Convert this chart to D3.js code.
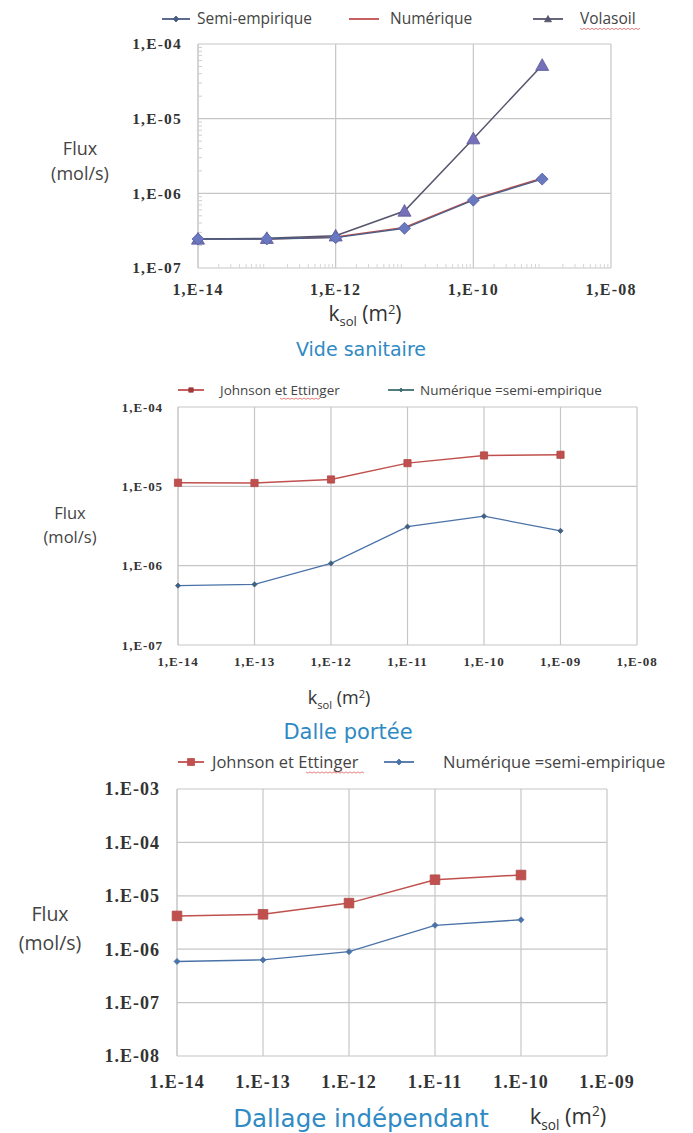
<!DOCTYPE html>
<html><head><meta charset="utf-8">
<script src="https://cdn.jsdelivr.net/npm/d3@7"></script>
<style>body{margin:0;background:#fff}svg{display:block}</style>
</head><body>
<svg id="c" width="693" height="1133"></svg>
<script>
// ---------- DATA ----------
const kVide = [1e-14, 1e-13, 1e-12, 1e-11, 1e-10, 1e-9];
const videSemi = [2.45e-7, 2.45e-7, 2.55e-7, 3.4e-7, 8.1e-7, 1.55e-6];
const videNum = [2.45e-7, 2.45e-7, 2.6e-7, 3.5e-7, 8.3e-7, 1.6e-6];
const videVola = [2.45e-7, 2.5e-7, 2.7e-7, 5.8e-7, 5.4e-6, 5.2e-5];
const videXTicks = ["1,E-14", "1,E-12", "1,E-10", "1,E-08"];
const videYTicks = ["1,E-04", "1,E-05", "1,E-06", "1,E-07"];

const kDalle = [1e-14, 1e-13, 1e-12, 1e-11, 1e-10, 1e-9];
const dalleJE = [1.11e-5, 1.1e-5, 1.22e-5, 1.96e-5, 2.45e-5, 2.5e-5];
const dalleNum = [5.6e-7, 5.8e-7, 1.07e-6, 3.1e-6, 4.2e-6, 2.75e-6];
const dalleXTicks = ["1,E-14", "1,E-13", "1,E-12", "1,E-11", "1,E-10", "1,E-09", "1,E-08"];
const dalleYTicks = ["1,E-04", "1,E-05", "1,E-06", "1,E-07"];

const kDallage = [1e-14, 1e-13, 1e-12, 1e-11, 1e-10];
const dallageJE = [4.2e-6, 4.5e-6, 7.3e-6, 2.0e-5, 2.45e-5];
const dallageNum = [5.9e-7, 6.3e-7, 9.0e-7, 2.8e-6, 3.55e-6];
const dallageXTicks = ["1.E-14", "1.E-13", "1.E-12", "1.E-11", "1.E-10", "1.E-09"];
const dallageYTicks = ["1.E-03", "1.E-04", "1.E-05", "1.E-06", "1.E-07", "1.E-08"];

const svg = d3.select("#c");
const BLUE_T = "#2f8ac4";
const SERIF = "'Liberation Serif','Times New Roman',serif";
const SANS = "'Open Sans',Lato,sans-serif";

function shape(type, r) {
  if (type === "diamond") return `M0,${-r}L${r},0L0,${r}L${-r},0Z`;
  if (type === "triangle") return `M0,${-r}L${r},${r * 0.8}L${-r},${r * 0.8}Z`;
  return `M${-r},${-r}H${r}V${r}H${-r}Z`;
}
function marker(g, type, x, y, r, fill, stroke) {
  g.append("path").attr("d", shape(type, r))
    .attr("transform", `translate(${x},${y})`).attr("fill", fill).attr("stroke", stroke || fill).attr("stroke-width", 0.8);
}

function chart(o) {
  const g = svg.append("g");
  const x = d3.scaleLog().domain(o.xDomain).range([o.x0, o.x1]);
  const y = d3.scaleLog().domain(o.yDomain).range([o.y1, o.y0]);
  const yDec = [];
  for (let e = Math.log10(o.yDomain[0]); e <= Math.log10(o.yDomain[1]) + 1e-9; e++) yDec.push(Math.pow(10, e));
  g.selectAll(null).data(yDec).enter().append("line")
    .attr("x1", o.x0).attr("x2", o.x1).attr("y1", d => y(d)).attr("y2", d => y(d))
    .attr("stroke", "#c6c6c6").attr("stroke-width", 1.2);
  g.selectAll(null).data(o.xGrid).enter().append("line")
    .attr("x1", d => x(d)).attr("x2", d => x(d)).attr("y1", o.y0).attr("y2", o.y1)
    .attr("stroke", "#c6c6c6").attr("stroke-width", 1.2);
  g.append("line").attr("x1", o.x0).attr("x2", o.x0).attr("y1", o.y0).attr("y2", o.y1).attr("stroke", "#bdbdbd").attr("stroke-width", 1.3);
  if (o.minor) {
    const mins = [];
    yDec.slice(0, -1).forEach(d => { for (let m = 2; m < 10; m++) mins.push(d * m); });
    g.selectAll(null).data(mins).enter().append("line")
      .attr("x1", o.x0).attr("x2", o.x0 + 4).attr("y1", d => y(d)).attr("y2", d => y(d))
      .attr("stroke", "#cfcfcf");
    const xm = [];
    const xs = Math.log10(o.xDomain[0]), xe = Math.log10(o.xDomain[1]);
    for (let e = xs; e < xe; e++) for (let m = 2; m < 10; m++) xm.push(Math.pow(10, e) * m);
    g.selectAll(null).data(xm).enter().append("line")
      .attr("x1", d => x(d)).attr("x2", d => x(d)).attr("y1", o.y1).attr("y2", o.y1 - 4)
      .attr("stroke", "#d6d6d6");
  }
  g.selectAll(null).data(yDec.slice().reverse()).enter().append("text")
    .attr("x", o.x0 - o.yLabGap).attr("y", d => y(d) + o.yFont * 0.35)
    .attr("text-anchor", "end").attr("font-family", SERIF).attr("font-weight", "bold")
    .attr("font-size", o.yFont).attr("letter-spacing", o.ls).attr("fill", "#333")
    .text((d, i) => o.yTicks[i]);
  g.selectAll(null).data(o.xTickVals).enter().append("text")
    .attr("x", d => x(d)).attr("y", o.xLabY)
    .attr("text-anchor", "middle").attr("font-family", SERIF).attr("font-weight", "bold")
    .attr("font-size", o.xFont).attr("letter-spacing", o.ls).attr("fill", "#333")
    .text((d, i) => o.xTicks[i]);
  o.series.forEach(s => {
    const line = d3.line().x((d, i) => x(s.k[i])).y(d => y(d));
    g.append("path").datum(s.v).attr("d", line).attr("fill", "none")
      .attr("stroke", s.line).attr("stroke-width", s.lw || 1.5);
    if (s.marker) s.v.forEach((d, i) => marker(g, s.marker, x(s.k[i]), y(d), s.ms, s.mfill, s.mstroke));
  });
  o.legend.forEach(l => {
    g.append("line").attr("x1", l.x).attr("x2", l.x + l.w).attr("y1", o.legY).attr("y2", o.legY)
      .attr("stroke", l.line).attr("stroke-width", 1.8);
    if (l.marker) marker(g, l.marker, l.x + l.w / 2, o.legY, l.ms, l.mfill);
    g.append("text").attr("x", l.tx).attr("y", o.legY + o.legFont * 0.35)
      .attr("font-family", SANS).attr("font-size", o.legFont).attr("fill", "#444").text(l.text);
    if (l.underline) {
      const w = l.underline;
      g.append("path").attr("d", d3.range(0, w[1], 2).map((v, i) => (i ? "L" : "M") + (w[0] + v) + "," + (o.legY + o.legFont * 0.6 + (i % 2 ? 1.2 : 0))).join(""))
        .attr("fill", "none").attr("stroke", "#e06060").attr("stroke-width", 0.8);
    }
  });
  g.append("text").attr("x", o.fluxX).attr("y", o.fluxY).attr("text-anchor", "middle")
    .attr("font-family", SANS).attr("font-size", o.fluxFont).attr("fill", "#444").text("Flux");
  g.append("text").attr("x", o.fluxX).attr("y", o.fluxY + o.fluxGap).attr("text-anchor", "middle")
    .attr("font-family", SANS).attr("font-size", o.fluxFont).attr("fill", "#444").text("(mol/s)");
  const kt = g.append("text").attr("x", o.kX).attr("y", o.kY).attr("text-anchor", "middle")
    .attr("font-family", SANS).attr("font-size", o.kFont).attr("fill", "#333");
  kt.append("tspan").text("k");
  kt.append("tspan").attr("font-size", o.kFont * 0.62).attr("dy", o.kFont * 0.25).text("sol");
  kt.append("tspan").attr("dy", -o.kFont * 0.25).text(" (m");
  kt.append("tspan").attr("font-size", o.kFont * 0.62).attr("dy", -o.kFont * 0.35).text("2");
  kt.append("tspan").attr("dy", o.kFont * 0.35).text(")");
  g.append("text").attr("x", o.tX).attr("y", o.tY).attr("text-anchor", "middle")
    .attr("font-family", "'DejaVu Sans',Verdana,sans-serif").attr("font-size", o.tFont)
    .attr("fill", BLUE_T).text(o.title);
}

// ---------- Chart 1: Vide sanitaire ----------
chart({
  xDomain: [1e-14, 1e-8], yDomain: [1e-7, 1e-4],
  x0: 198, x1: 611, y0: 44, y1: 268,
  xGrid: [1e-12, 1e-10, 1e-8], minor: true,
  xTickVals: [1e-14, 1e-12, 1e-10, 1e-8], xTicks: videXTicks, yTicks: videYTicks,
  yFont: 15.5, yLabGap: 16, xFont: 16, xLabY: 295, ls: 1.2,
  series: [
    {k: kVide, v: videNum, line: "#c0504d", lw: 1.5},
    {k: kVide, v: videVola, line: "#55556e", lw: 1.5, marker: "triangle", ms: 6.5, mfill: "#7570b8", mstroke: "#5c5898"},
    {k: kVide, v: videSemi, line: "#4b5d85", lw: 1.4, marker: "diamond", ms: 6, mfill: "#6a78c0", mstroke: "#55609f"}
  ],
  legY: 19, legFont: 15.5,
  legend: [
    {x: 162, w: 28, line: "#4b5d85", marker: "diamond", ms: 3, mfill: "#4b5d85", tx: 197, text: "Semi-empirique"},
    {x: 349, w: 30, line: "#c0504d", tx: 390, text: "Numérique"},
    {x: 533, w: 30, line: "#55556e", marker: "triangle", ms: 3.5, mfill: "#55556e", tx: 580, text: "Volasoil", underline: [580, 62]}
  ],
  fluxX: 80, fluxY: 155, fluxGap: 25, fluxFont: 18,
  kX: 365, kY: 321, kFont: 21,
  tX: 361, tY: 356, tFont: 19, title: "Vide sanitaire"
});

// ---------- Chart 2: Dalle portée ----------
chart({
  xDomain: [1e-14, 1e-8], yDomain: [1e-7, 1e-4],
  x0: 178, x1: 637, y0: 407, y1: 645,
  xGrid: [1e-13, 1e-12, 1e-11, 1e-10, 1e-9, 1e-8], minor: false,
  xTickVals: [1e-14, 1e-13, 1e-12, 1e-11, 1e-10, 1e-9, 1e-8], xTicks: dalleXTicks, yTicks: dalleYTicks,
  yFont: 13, yLabGap: 15, xFont: 13, xLabY: 666, ls: 0.9,
  series: [
    {k: kDalle, v: dalleJE, line: "#c0504d", lw: 1.4, marker: "square", ms: 3.6, mfill: "#c0504d", mstroke: "#b04848"},
    {k: kDalle, v: dalleNum, line: "#4a72a8", lw: 1.3, marker: "diamond", ms: 2.6, mfill: "#3f6080"}
  ],
  legY: 390, legFont: 13.5,
  legend: [
    {x: 178, w: 26, line: "#c0504d", marker: "square", ms: 2.2, mfill: "#a03838", tx: 220, text: "Johnson et Ettinger", underline: [280, 42]},
    {x: 388, w: 26, line: "#3f6f70", marker: "diamond", ms: 2, mfill: "#3f6f70", tx: 420, text: "Numérique =semi-empirique"}
  ],
  fluxX: 70, fluxY: 519, fluxFont: 16.5, fluxGap: 24,
  kX: 339, kY: 704, kFont: 18,
  tX: 348, tY: 739, tFont: 21, title: "Dalle portée"
});

// ---------- Chart 3: Dallage indépendant ----------
chart({
  xDomain: [1e-14, 1e-9], yDomain: [1e-8, 1e-3],
  x0: 177, x1: 607, y0: 789, y1: 1056,
  xGrid: [1e-13, 1e-12, 1e-11, 1e-10, 1e-9], minor: false,
  xTickVals: [1e-14, 1e-13, 1e-12, 1e-11, 1e-10, 1e-9], xTicks: dallageXTicks, yTicks: dallageYTicks,
  yFont: 18, yLabGap: 17, xFont: 18, xLabY: 1088, ls: 1,
  series: [
    {k: kDallage, v: dallageJE, line: "#c0504d", lw: 1.5, marker: "square", ms: 4.8, mfill: "#c0504d", mstroke: "#b04848"},
    {k: kDallage, v: dallageNum, line: "#4a72a8", lw: 1.4, marker: "diamond", ms: 3, mfill: "#4a72a8"}
  ],
  legY: 762, legFont: 16.5,
  legend: [
    {x: 178, w: 26, line: "#c0504d", marker: "square", ms: 3.5, mfill: "#c0504d", tx: 212, text: "Johnson et Ettinger", underline: [306, 60]},
    {x: 384, w: 30, line: "#4a72a8", marker: "diamond", ms: 3, mfill: "#4a72a8", tx: 443, text: "Numérique =semi-empirique"}
  ],
  fluxX: 50, fluxY: 921, fluxFont: 19.5, fluxGap: 29,
  kX: 568, kY: 1124, kFont: 22,
  tX: 361, tY: 1127, tFont: 24.5, title: "Dallage indépendant"
});
</script>
</body></html>
